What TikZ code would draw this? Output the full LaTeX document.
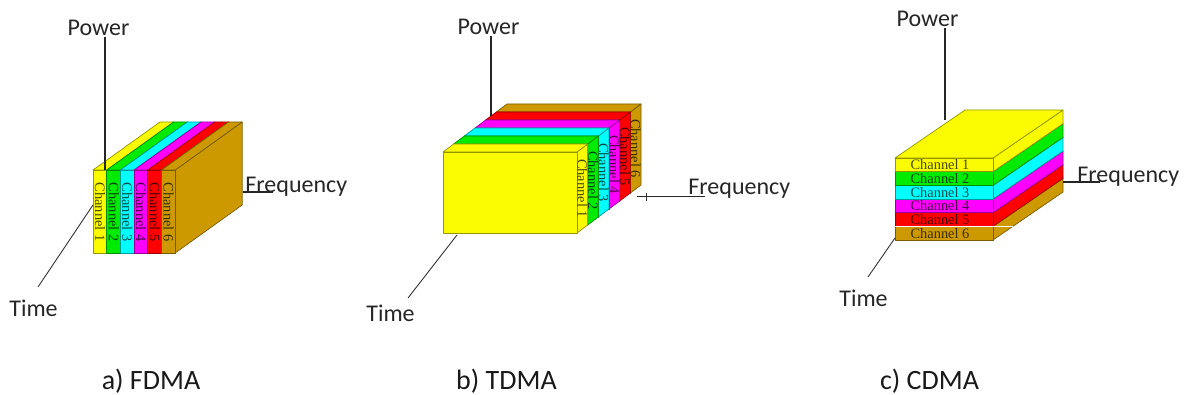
\documentclass[tikz,border=0pt]{standalone}
\usepackage{fontspec}
\setmainfont{Carlito}
\newfontfamily\chanserif{Liberation Serif}
\usepackage{tikz}
\usetikzlibrary{calc}
\usepackage{xcolor}
\definecolor{chyellow}{RGB}{250,250,0}
\definecolor{chgreen}{RGB}{0,235,0}
\definecolor{chcyan}{RGB}{0,255,255}
\definecolor{chmagenta}{RGB}{255,0,255}
\definecolor{chred}{RGB}{255,0,0}
\definecolor{chbrown}{RGB}{204,153,0}
\newcommand\chslab[7]{%
  \filldraw[face=#1] ({#2+#4},{#3}) -- ({#2+#4+#6},{#3-#7}) -- ({#2+#4+#6},{#3+#5-#7}) -- ({#2+#4},{#3+#5}) -- cycle;
  \filldraw[face=#1] ({#2},{#3}) -- ({#2+#6},{#3-#7}) -- ({#2+#4+#6},{#3-#7}) -- ({#2+#4},{#3}) -- cycle;
  \filldraw[face=#1] ({#2},{#3}) rectangle ({#2+#4},{#3+#5});
}

\begin{document}
\begin{tikzpicture}[x=0.5pt,y=-0.5pt,
    face/.style={fill=#1,draw=#1!60!black,line width=0.35pt,line join=round},
    chan/.style={text=#1!30!black,font=\chanserif\fontsize{7.2}{8}\selectfont,inner sep=0pt},
    lbl/.style={font=\fontsize{12}{14}\selectfont,text=black!85,inner sep=0pt},
    caption/.style={font=\fontsize{14}{16}\selectfont,text=black!90,inner sep=0pt,anchor=base},
    axis/.style={line width=0.7pt,black!85},
    tline/.style={line width=0.45pt,black!80}]
    \useasboundingbox (0,0) rectangle (1185,395);

    \foreach \c [count=\n] in {chyellow,chgreen,chcyan,chmagenta,chred,chbrown}{
        \chslab{\c}{93+13.7*(\n-1)}{170}{13.7}{83}{67}{48}
        \node[chan=\c,rotate=-90] (fA\n) at ({100+13.7*(\n-1)},212) {Channel \n};
    }
    \node[lbl,anchor=base] (pwA) at (98.5,36) {Power};
    \coordinate (pwA0) at (105,170);
    \draw[axis] (pwA0) -- (pwA.south -| pwA0);
    \node[lbl,anchor=base west] (frA) at (245,193) {Frequency};
    \coordinate (frA0) at (243,192); \coordinate (frA1) at (273,192);
    \draw[axis] (frA0) -- (frA1);
    \node[lbl,anchor=base] (tmA) at (33.5,317) {Time};
    \coordinate (tmA0) at (93,205); \coordinate (tmA1) at (38,287);
    \draw[tline] (tmA0) -- (tmA1);
    \node[caption] (capA) at (151,390) {a) FDMA};

    \foreach \c/\n in {chbrown/6,chred/5,chmagenta/4,chcyan/3,chgreen/2,chyellow/1}{
        \chslab{\c}{443+10.67*(\n-1)}{152-8*(\n-1)}{134}{81}{10.67}{8}
        \node[chan=\c,rotate=-90] (tB\n) at ({582.3+10.67*(\n-1)},{188.5-8*(\n-1)}) {Channel \n};
    }
    \node[lbl,anchor=base] (pwB) at (488.5,35) {Power};
    \coordinate (pwB0) at (491,116);
    \draw[axis] (pwB0) -- (pwB.south -| pwB0);
    \node[lbl,anchor=base west] (frB) at (688,195) {Frequency};
    \coordinate (frB0) at (637,196.5); \coordinate (frB1) at (705,196.5);
    \draw[axis] (frB0) -- (frB1);
    \coordinate (tkB0) at (646,193); \coordinate (tkB1) at (646,201);
    \draw[tline] (tkB0) -- (tkB1);
    \node[lbl,anchor=base] (tmB) at (390.5,322) {Time};
    \coordinate (tmB0) at (457,235); \coordinate (tmB1) at (408,298);
    \draw[tline] (tmB0) -- (tmB1);
    \node[caption] (capB) at (506.5,390) {b) TDMA};

    \foreach \c/\n in {chbrown/6,chred/5,chmagenta/4,chcyan/3,chgreen/2,chyellow/1}{
        \chslab{\c}{895}{158+13.67*(\n-1)}{98}{13.67}{70}{48}
        \node[chan=\c] (lC\n) at (940,{158+13.67*(\n-0.5)}) {Channel \n};
    }
    \draw[white,line width=0.8pt] (895,226.4) -- (1013,226.4);
    \node[lbl,anchor=base] (pwC) at (927.5,27) {Power};
    \coordinate (pwC0) at (945,120);
    \draw[axis] (pwC0) -- (pwC.south -| pwC0);
    \node[lbl,anchor=base west] (frC) at (1077,183) {Frequency};
    \coordinate (frC0) at (1063,182); \coordinate (frC1) at (1100,182);
    \draw[axis] (frC0) -- (frC1);
    \node[lbl,anchor=base] (tmC) at (863.5,307) {Time};
    \coordinate (tmC0) at (895,238); \coordinate (tmC1) at (868,277);
    \draw[tline] (tmC0) -- (tmC1);
    \node[caption] (capC) at (929.5,390) {c) CDMA};
\end{tikzpicture}
\end{document}
